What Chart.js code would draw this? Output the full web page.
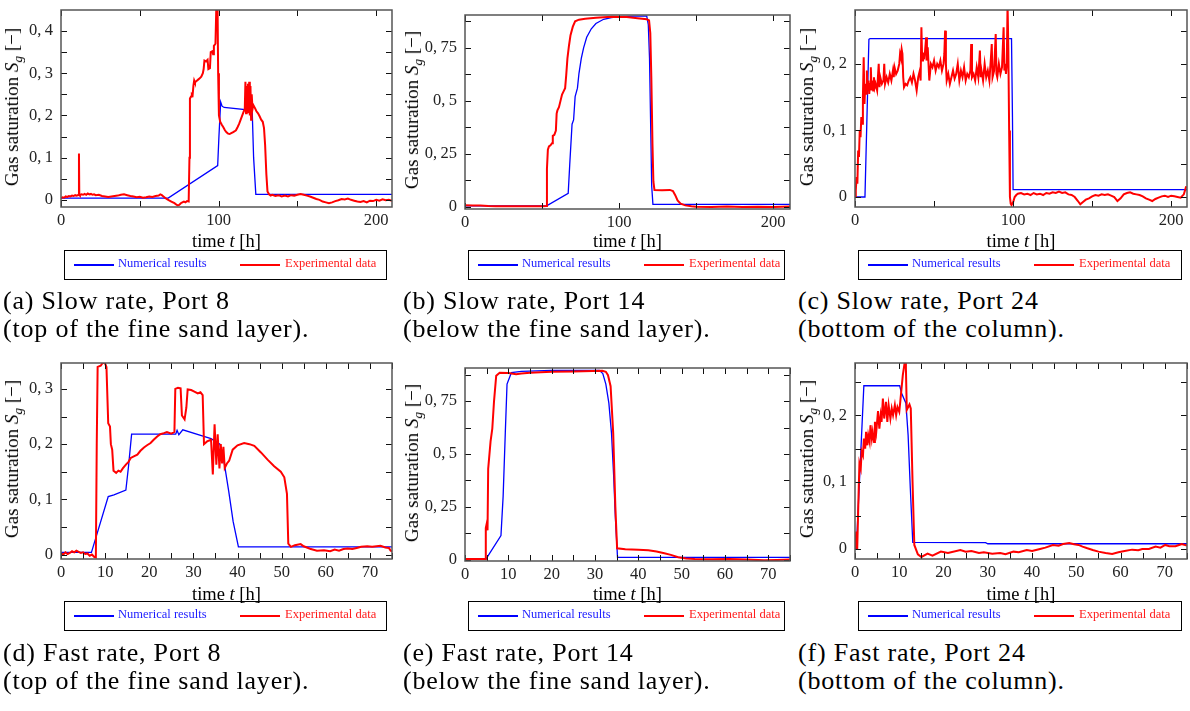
<!DOCTYPE html>
<html>
<head>
<meta charset="utf-8">
<script src="https://cdn.jsdelivr.net/npm/chart.js@4.4.1/dist/chart.umd.min.js"></script>
<style>
  html, body { margin: 0; padding: 0; background: #fff; }
  body { width: 1190px; height: 711px; position: relative; overflow: hidden; font-family: 'Liberation Serif', serif; color: #000; }
  .panel { position: absolute; }
  .ytitle { position: absolute; white-space: nowrap; font-size: 19px; transform: translate(-50%, -50%) rotate(-90deg); }
  .xtitle { position: absolute; white-space: nowrap; font-size: 18.5px; transform: translate(-50%, -50%); }
  sub { font-size: 70%; vertical-align: -0.3em; line-height: 0; }
  .legend { position: absolute; height: 30px; border: 1.5px solid #000; box-sizing: border-box; font-size: 12.5px; }
  .legend .ln { position: absolute; top: 13px; height: 1.6px; width: 40px; }
  .legend .tx { position: absolute; top: 5px; white-space: nowrap; }
  .caption { position: absolute; font-size: 26px; line-height: 28px; letter-spacing: 0.8px; white-space: nowrap; }
</style>
</head>
<body>
<script>
// Tick marks and labels
const slowXTicks = [0, 100, 200];
const slowXMarks = [0, 50, 100, 150, 200];
const fastXTicks = [0, 10, 20, 30, 40, 50, 60, 70];
const fastXMarks = [0, 5, 10, 15, 20, 25, 30, 35, 40, 45, 50, 55, 60, 65, 70, 75];
const port8SlowYTicks = [0, 0.1, 0.2, 0.3, 0.4];
const port8SlowYMarks = [0, 0.05, 0.1, 0.15, 0.2, 0.25, 0.3, 0.35, 0.4];
const port8FastYTicks = [0, 0.1, 0.2, 0.3];
const port8FastYMarks = [0, 0.05, 0.1, 0.15, 0.2, 0.25, 0.3];
const port14YTicks = [0, 0.25, 0.5, 0.75];
const port14YMarks = [0, 0.125, 0.25, 0.375, 0.5, 0.625, 0.75, 0.875];
const port24YTicks = [0, 0.1, 0.2];
const port24YMarks = [0, 0.05, 0.1, 0.15, 0.2, 0.25];

// (a) Slow rate, Port 8  [time h, Sg]
const slowPort8Num = [[0,0.004],[68,0.004],[99.4,0.081],[100.2,0.15],[101.3,0.232],[102.2,0.222],[103.5,0.219],[121.3,0.212],[122.2,0.1],[123.6,0.013],[210,0.013]];
const slowPort8Exp = [[0,0.004],[1,0.006],[2,0.005],[3,0.008],[4,0.007],[5,0.009],[6,0.008],[7,0.01],[8,0.009],[9,0.011],[10,0.01],[11.2,0.012],[11.4,0.11],[11.6,0.013],[12,0.011],[13,0.013],[14,0.012],[15,0.014],[16,0.012],[17,0.015],[18,0.013],[19,0.014],[20,0.012],[21,0.013],[22,0.011],[24,0.012],[26,0.009],[28,0.008],[30,0.007],[32,0.008],[34,0.009],[36,0.01],[38,0.012],[40,0.013],[42,0.011],[44,0.009],[46,0.008],[48,0.006],[50,0.007],[52,0.005],[54,0.006],[56,0.008],[58,0.007],[60,0.009],[62,0.01],[63,0.013],[64,0.011],[65,0.008],[66,0.005],[67,0.002],[68,0],[70,-0.004],[72,-0.008],[73,-0.011],[74,-0.013],[75,-0.012],[76,-0.008],[77,-0.006],[78,-0.004],[79,-0.006],[80,-0.003],[81,-0.004],[81.5,0.1],[81.8,0.24],[82.5,0.245],[83,0.25],[83.5,0.248],[84,0.27],[84.5,0.283],[85,0.278],[86,0.282],[87,0.285],[88,0.288],[89,0.292],[90,0.3],[90.5,0.31],[91,0.33],[92,0.328],[93,0.332],[93.5,0.31],[94.5,0.312],[95,0.35],[96,0.352],[96.5,0.345],[97,0.365],[98,0.37],[98.5,0.45],[99.3,0.47],[99.7,0.3],[100.2,0.2],[101,0.185],[102,0.178],[103,0.172],[104,0.165],[105,0.16],[106,0.157],[107,0.156],[108,0.158],[109,0.16],[110,0.162],[111,0.165],[112,0.172],[113,0.18],[114,0.19],[115,0.2],[116,0.21],[116.6,0.215],[117,0.28],[117.4,0.205],[117.8,0.27],[118.2,0.21],[118.6,0.275],[119,0.205],[119.4,0.28],[119.8,0.2],[120.2,0.27],[120.6,0.19],[121,0.25],[121.5,0.215],[122,0.225],[123,0.218],[124,0.21],[125,0.205],[126,0.198],[127,0.19],[128,0.185],[128.8,0.17],[129.5,0.13],[130.3,0.06],[131,0.02],[132,0.013],[133,0.01],[134,0.012],[136,0.009],[138,0.011],[140,0.008],[142,0.01],[144,0.008],[146,0.011],[148,0.01],[150,0.012],[152,0.014],[154,0.012],[156,0.01],[158,0.008],[160,0.005],[162,0.002],[164,0],[166,-0.004],[168,-0.006],[170,-0.008],[172,-0.006],[174,-0.003],[176,-0.001],[178,0.002],[180,0.001],[182,0.003],[184,0],[186,-0.002],[188,-0.004],[190,-0.005],[192,-0.003],[194,-0.006],[196,-0.002],[198,-0.003],[200,0],[202,-0.002],[204,0.001],[206,-0.001],[208,0],[210,-0.002]];

// (b) Slow rate, Port 14
const slowPort14Num = [[0,0.005],[53,0.005],[67,0.064],[68,0.2],[69.5,0.39],[70.5,0.41],[71.5,0.52],[73,0.56],[74,0.63],[75.5,0.7],[77,0.75],[79,0.8],[82,0.84],[85,0.865],[90,0.885],[95,0.893],[100,0.897],[110,0.9],[118,0.9],[119,0.86],[119.8,0.7],[120.5,0.4],[121.2,0.1],[122,0.012],[211,0.012]];
const slowPort14Exp = [[0,0.008],[5,0.007],[10,0.006],[15,0.004],[20,0.003],[30,0.003],[40,0.003],[50,0.003],[52.8,0.004],[53.2,0.18],[53.8,0.27],[54.5,0.285],[55.5,0.29],[56.5,0.3],[57,0.335],[58,0.34],[59,0.36],[59.5,0.44],[60,0.455],[61,0.47],[62,0.5],[63,0.53],[64,0.545],[65,0.56],[65.7,0.62],[66.5,0.7],[67.5,0.76],[68.5,0.81],[70,0.85],[71.5,0.875],[74,0.883],[78,0.887],[85,0.892],[95,0.897],[105,0.895],[112,0.89],[118,0.885],[119.5,0.88],[120.3,0.82],[121,0.6],[121.7,0.3],[122.3,0.12],[123,0.08],[128,0.079],[133,0.08],[135,0.075],[136.5,0.055],[138,0.03],[140,0.015],[143,0.007],[147,0.003],[150,0.001],[160,0],[170,0.002],[180,0],[190,0.001],[200,0],[211,0.002]];

// (c) Slow rate, Port 24
const slowPort24Num = [[0,0],[6.3,0],[8.8,0.237],[9.5,0.238],[99,0.238],[99.6,0.12],[100,0.011],[210,0.011]];
const slowPort24Exp = [[0,0],[0.5,0.01],[1,0.03],[1.5,0.02],[2,0.07],[2.5,0.06],[3,0.1],[3.5,0.09],[4,0.12],[4.5,0.11],[5,0.15],[5.5,0.21],[6,0.14],[6.5,0.17],[7,0.155],[7.5,0.19],[8,0.16],[8.5,0.175],[9,0.155],[9.5,0.17],[10,0.195],[10.5,0.16],[11,0.175],[11.5,0.16],[12,0.18],[12.5,0.165],[13,0.17],[14,0.16],[15,0.2],[15.5,0.165],[16,0.18],[17,0.17],[18,0.175],[18.5,0.2],[19,0.17],[20,0.18],[21,0.172],[22,0.185],[23,0.175],[24,0.19],[24.5,0.18],[25,0.195],[26,0.185],[27,0.19],[28,0.2],[28.5,0.215],[29,0.21],[29.5,0.222],[30,0.215],[30.5,0.18],[31,0.165],[32,0.17],[33,0.168],[34,0.175],[35,0.18],[36,0.172],[37,0.185],[38,0.175],[39,0.16],[40,0.18],[41,0.19],[41.5,0.175],[42,0.255],[42.5,0.205],[43,0.215],[44,0.21],[45,0.24],[45.5,0.205],[46,0.225],[47,0.175],[48,0.2],[49,0.195],[50,0.205],[51,0.19],[52,0.2],[53,0.195],[54,0.205],[55,0.19],[56,0.2],[56.5,0.215],[57,0.25],[57.5,0.2],[58,0.175],[59,0.185],[60,0.17],[61,0.18],[62,0.19],[63,0.178],[64,0.185],[65,0.2],[66,0.175],[67,0.19],[68,0.18],[69,0.195],[70,0.175],[71,0.185],[72,0.18],[73,0.19],[73.5,0.23],[74,0.18],[75,0.185],[76,0.175],[77,0.195],[78,0.18],[79,0.22],[79.5,0.18],[80,0.19],[81,0.175],[82,0.2],[83,0.18],[84,0.19],[85,0.175],[86,0.21],[86.5,0.23],[87,0.18],[88,0.19],[89,0.245],[89.5,0.185],[90,0.18],[91,0.2],[92,0.185],[93,0.195],[94,0.255],[94.5,0.19],[95,0.2],[95.5,0.185],[96,0.2],[96.5,0.29],[97,0.22],[97.5,0.1],[98,0],[98.5,-0.01],[99,-0.012],[100,-0.008],[101,0],[102,0.003],[103,0.005],[105,0.006],[107,0.004],[109,0.005],[111,0.003],[113,0.006],[115,0.004],[117,0.005],[119,0.003],[121,0.006],[123,0.005],[125,0.007],[127,0.006],[129,0.008],[131,0.006],[133,0.007],[135,0.004],[137,0.003],[139,0],[141,-0.006],[142.5,-0.011],[144,-0.008],[146,-0.004],[148,-0.002],[150,0.001],[152,0.003],[154,0.002],[156,0.004],[158,0.003],[160,0.004],[162,0.002],[164,0],[166,-0.006],[168,-0.002],[170,0.004],[172,0.006],[174,0.007],[176,0.005],[178,0.004],[180,0.003],[182,0.001],[184,-0.002],[186,-0.004],[188,-0.006],[190,-0.003],[192,-0.001],[194,0.001],[196,0.002],[198,0],[200,0.002],[202,0.001],[204,0],[206,-0.001],[208,0.004],[209.5,0.016]];

// (d) Fast rate, Port 8
const fastPort8Num = [[0,0.004],[6.9,0.004],[10.7,0.105],[12,0.108],[14.7,0.117],[15.3,0.16],[16,0.218],[26,0.218],[26.3,0.225],[26.7,0.217],[27.6,0.226],[32,0.215],[34,0.21],[36,0.2],[37,0.165],[38,0.115],[39,0.06],[40.2,0.014],[75,0.014]];
const fastPort8Exp = [[0,0.003],[0.5,0],[1,0.004],[1.5,0.001],[2,0.003],[2.5,0.006],[3,0.004],[3.5,0.007],[4,0.005],[4.5,0.003],[5,0.004],[5.5,0.001],[6,0.002],[6.5,-0.002],[7,0],[7.5,-0.004],[7.9,-0.005],[8.1,0.2],[8.3,0.34],[9,0.342],[9.5,0.348],[10,0.346],[10.3,0.34],[10.7,0.238],[11.1,0.232],[11.3,0.2],[11.6,0.19],[11.9,0.152],[12.5,0.148],[13,0.152],[13.5,0.15],[14,0.156],[14.7,0.163],[15.3,0.168],[15.8,0.175],[16.5,0.178],[17.3,0.181],[18,0.188],[18.8,0.194],[19.5,0.198],[20.3,0.202],[21,0.208],[21.8,0.214],[22.5,0.218],[23.3,0.22],[24,0.222],[25,0.219],[25.7,0.222],[25.9,0.3],[26.5,0.302],[27.1,0.301],[27.4,0.252],[28,0.245],[28.4,0.266],[28.7,0.299],[29.5,0.298],[30,0.296],[31,0.292],[31.6,0.294],[32.1,0.289],[32.4,0.2],[33.1,0.205],[34,0.208],[34.4,0.145],[34.8,0.236],[35.2,0.163],[35.5,0.218],[35.9,0.156],[36.2,0.2],[36.5,0.165],[36.8,0.195],[37.1,0.157],[37.6,0.165],[38.1,0.17],[38.9,0.19],[40,0.198],[41.5,0.202],[42.7,0.2],[43.8,0.197],[45.3,0.185],[46.8,0.172],[48.3,0.16],[49.8,0.15],[50.6,0.14],[51.2,0.11],[51.5,0.02],[52.1,0.014],[53,0.017],[54.3,0.019],[55,0.015],[56,0.012],[56.6,0.01],[58,0.007],[59.6,0.008],[61,0.006],[62,0.009],[63,0.007],[64,0.01],[65,0.011],[66,0.01],[67,0.012],[68,0.014],[69.4,0.015],[70.5,0.014],[72.4,0.016],[73.5,0.013],[74.3,0.012],[74.7,0.007],[75,0.006]];

// (e) Fast rate, Port 14
const fastPort14Num = [[0,0.003],[4.8,0.003],[8.3,0.115],[8.8,0.3],[9.3,0.6],[9.7,0.83],[10.7,0.884],[13,0.89],[20,0.895],[31,0.895],[31.8,0.88],[32.5,0.83],[33.2,0.74],[33.8,0.6],[34.3,0.4],[34.7,0.2],[35.2,0.012],[75,0.012]];
const fastPort14Exp = [[0,0.005],[4.7,0.005],[4.8,0.15],[5,0.17],[5.2,0.14],[5.35,0.43],[5.9,0.56],[6.3,0.62],[6.7,0.75],[7.2,0.87],[8,0.884],[10,0.882],[11.8,0.877],[13,0.88],[15,0.883],[20,0.888],[25,0.89],[31.7,0.893],[32.5,0.888],[33,0.872],[33.6,0.82],[34.2,0.6],[34.7,0.25],[35.1,0.055],[37,0.05],[40,0.048],[42.3,0.046],[44.2,0.04],[46,0.032],[47.5,0.024],[49.2,0.013],[51,0.007],[53,0.004],[57,0.003],[61,0.004],[65,0.002],[69,-0.002],[72,0],[75,0.002]];

// (f) Fast rate, Port 24
const fastPort24Num = [[0,0],[0.3,0],[2,0.244],[10.1,0.244],[10.5,0.233],[11.5,0.218],[12,0.17],[12.5,0.09],[13.05,0.01],[29.5,0.0095],[30,0.0078],[75,0.0078]];
const fastPort24Exp = [[0,0],[0.3,0.026],[0.5,0],[0.8,0.08],[1,0.128],[1.3,0.12],[1.5,0.146],[1.8,0.14],[2,0.165],[2.3,0.15],[2.5,0.175],[2.8,0.155],[3,0.17],[3.3,0.16],[3.5,0.185],[3.8,0.165],[4,0.175],[4.3,0.16],[4.5,0.19],[4.8,0.175],[5.2,0.206],[5.5,0.18],[5.8,0.2],[6,0.19],[6.3,0.225],[6.6,0.195],[7,0.22],[7.3,0.19],[7.6,0.215],[8,0.195],[8.3,0.21],[8.6,0.2],[9,0.215],[9.3,0.2],[9.6,0.212],[10,0.205],[10.3,0.225],[10.8,0.26],[11.3,0.282],[11.5,0.27],[11.7,0.208],[12.3,0.216],[12.6,0.21],[13,0.1],[13.4,0.006],[14.2,-0.008],[15,-0.012],[16.4,-0.007],[17.5,-0.01],[19.4,-0.004],[21,-0.006],[23.8,-0.0015],[25,-0.004],[26.3,-0.003],[28,-0.006],[29.1,-0.005],[31,-0.007],[32.8,-0.006],[34,-0.008],[35.8,-0.004],[37,-0.005],[38.8,-0.0015],[40,-0.003],[41.8,0],[43,0.002],[44.7,0.006],[46,0.005],[47,0.0075],[48.4,0.009],[49.5,0.007],[50.5,0.006],[51.4,0.0035],[52.5,0.001],[53.7,-0.0015],[55,-0.004],[56.6,-0.006],[58.1,-0.0075],[59.5,-0.005],[60.9,-0.003],[62.6,-0.001],[64,-0.002],[64.9,0],[66.4,0],[67.9,0.0035],[69,0.002],[70.1,0.006],[71,0.004],[72.4,0.004],[73.2,0.006],[73.8,0.0075],[75,0.005]];

// Layout of the six panels (pixels)
const rows = [
  { xTitle: 241, legend: 250, caption: 287 },
  { xTitle: 594, legend: 601, caption: 639 }
];
const panels = [
  { num: slowPort8Num, exp: slowPort8Exp, xMax: 210, yMin: -0.017, yMax: 0.45, xTicks: slowXTicks, xMarks: slowXMarks, yTicks: port8SlowYTicks, yMarks: port8SlowYMarks,
    col: 0, colW: 400, row: 0, plot: { l: 61, r: 392, t: 10, b: 207 }, caption: ['(a) Slow rate, Port 8', '(top of the fine sand layer).'] },
  { num: slowPort14Num, exp: slowPort14Exp, xMax: 211, yMin: -0.01, yMax: 0.905, xTicks: slowXTicks, xMarks: slowXMarks, yTicks: port14YTicks, yMarks: port14YMarks,
    col: 400, colW: 395, row: 0, plot: { l: 465, r: 790, t: 15, b: 209 }, caption: ['(b) Slow rate, Port 14', '(below the fine sand layer).'] },
  { num: slowPort24Num, exp: slowPort24Exp, xMax: 210, yMin: -0.015, yMax: 0.281, xTicks: slowXTicks, xMarks: slowXMarks, yTicks: port24YTicks, yMarks: port24YMarks,
    col: 795, colW: 395, row: 0, plot: { l: 855, r: 1187, t: 10, b: 207 }, caption: ['(c) Slow rate, Port 24', '(bottom of the column).'] },
  { num: fastPort8Num, exp: fastPort8Exp, xMax: 75, yMin: -0.008, yMax: 0.347, xTicks: fastXTicks, xMarks: fastXMarks, yTicks: port8FastYTicks, yMarks: port8FastYMarks,
    col: 0, colW: 400, row: 1, plot: { l: 61, r: 392, t: 363, b: 559 }, caption: ['(d) Fast rate, Port 8', '(top of the fine sand layer).'] },
  { num: fastPort14Num, exp: fastPort14Exp, xMax: 75, yMin: -0.005, yMax: 0.906, xTicks: fastXTicks, xMarks: fastXMarks, yTicks: port14YTicks, yMarks: port14YMarks,
    col: 400, colW: 395, row: 1, plot: { l: 465, r: 790, t: 368, b: 561 }, caption: ['(e) Fast rate, Port 14', '(below the fine sand layer).'] },
  { num: fastPort24Num, exp: fastPort24Exp, xMax: 75, yMin: -0.015, yMax: 0.278, xTicks: fastXTicks, xMarks: fastXMarks, yTicks: port24YTicks, yMarks: port24YMarks,
    col: 795, colW: 395, row: 1, plot: { l: 855, r: 1187, t: 363, b: 559 }, caption: ['(f) Fast rate, Port 24', '(bottom of the column).'] }
];

// Inward tick marks on all four sides plus the frame
const framePlugin = {
  id: 'frame',
  afterDraw(chart, args, opts) {
    const { ctx, chartArea: a, scales: { x, y } } = chart;
    ctx.save();
    ctx.strokeStyle = '#111';
    ctx.lineWidth = 1;
    ctx.beginPath();
    opts.xMarks.forEach(v => {
      const px = Math.round(x.getPixelForValue(v)) + 0.5;
      ctx.moveTo(px, a.bottom); ctx.lineTo(px, a.bottom - 6);
      ctx.moveTo(px, a.top); ctx.lineTo(px, a.top + 6);
    });
    opts.yMarks.forEach(v => {
      const py = Math.round(y.getPixelForValue(v)) + 0.5;
      ctx.moveTo(a.left, py); ctx.lineTo(a.left + 6, py);
      ctx.moveTo(a.right, py); ctx.lineTo(a.right - 6, py);
    });
    ctx.stroke();
    ctx.strokeStyle = '#555';
    ctx.lineWidth = 1.5;
    ctx.strokeRect(a.left, a.top, a.right - a.left, a.bottom - a.top);
    ctx.restore();
  }
};

const tickFont = { family: 'Liberation Serif', size: 16.5 };

function toXY(list) {
  return list.map(([t, s]) => ({ x: t, y: s }));
}

// decimal comma followed by a thin space, as in the original
function fmtTick(v) {
  return v === 0 ? '0' : String(v).replace('.', ',\u2009');
}

function addEl(cls, css, html) {
  const el = document.createElement('div');
  el.className = cls;
  el.style.cssText = css;
  el.innerHTML = html;
  document.body.appendChild(el);
  return el;
}

function makePanel(p) {
  const top = p.plot.t - 20;
  const H = p.plot.b - top + 36;
  const wrap = addEl('panel', `left:${p.col}px;top:${top}px;width:${p.colW}px;height:${H}px`, '');
  const canvas = document.createElement('canvas');
  wrap.appendChild(canvas);

  new Chart(canvas, {
    type: 'line',
    data: {
      datasets: [
        { label: 'Experimental data', data: toXY(p.exp), borderColor: '#ff0000', borderWidth: 2, pointRadius: 0, tension: 0, order: 0 },
        { label: 'Numerical results', data: toXY(p.num), borderColor: '#0000ff', borderWidth: 1.3, pointRadius: 0, tension: 0, order: 1 }
      ]
    },
    options: {
      responsive: true,
      maintainAspectRatio: false,
      animation: false,
      events: [],
      layout: { padding: { left: 0, top: 20, right: p.col + p.colW - p.plot.r, bottom: 0 } },
      plugins: {
        legend: { display: false },
        tooltip: { enabled: false },
        frame: { xMarks: p.xMarks, yMarks: p.yMarks }
      },
      scales: {
        x: {
          type: 'linear', min: 0, max: p.xMax,
          grid: { display: false, drawTicks: false },
          border: { display: false },
          ticks: { font: tickFont, color: '#222', padding: 4, maxRotation: 0, autoSkip: false, callback: fmtTick },
          afterBuildTicks: s => { s.ticks = p.xTicks.map(v => ({ value: v })); },
          afterFit: s => { s.height = H - (p.plot.b - top); }
        },
        y: {
          type: 'linear', min: p.yMin, max: p.yMax,
          grid: { display: false, drawTicks: false },
          border: { display: false },
          ticks: { font: tickFont, color: '#222', padding: 8, autoSkip: false, callback: fmtTick },
          afterBuildTicks: s => { s.ticks = p.yTicks.map(v => ({ value: v })); },
          afterFit: s => { s.width = p.plot.l - p.col; }
        }
      }
    },
    plugins: [framePlugin]
  });

  const r = rows[p.row];
  // Axis titles
  addEl('ytitle', `left:${p.col + 12}px;top:${(p.plot.t + p.plot.b) / 2 - 2}px`, 'Gas saturation <i>S<sub>g</sub></i> [−]');
  addEl('xtitle', `left:${(p.plot.l + p.plot.r) / 2}px;top:${r.xTitle}px`, 'time <i>t</i> [h]');

  // Legend box
  const lg = addEl('legend', `left:${p.plot.l + 3}px;top:${r.legend}px;width:${p.plot.r - p.plot.l - 8}px`, '');
  lg.innerHTML =
    '<div class="ln" style="left:9px;background:#0000ff"></div>' +
    '<div class="tx" style="left:53px;color:#1a1aff">Numerical results</div>' +
    '<div class="ln" style="left:175px;background:#ff0000"></div>' +
    '<div class="tx" style="left:220px;color:#ff1a1a">Experimental data</div>';

  // Sub-figure caption
  addEl('caption', `left:${p.col + 3}px;top:${r.caption}px`, p.caption.join('<br>'));
}

panels.forEach(makePanel);
</script>
</body>
</html>
